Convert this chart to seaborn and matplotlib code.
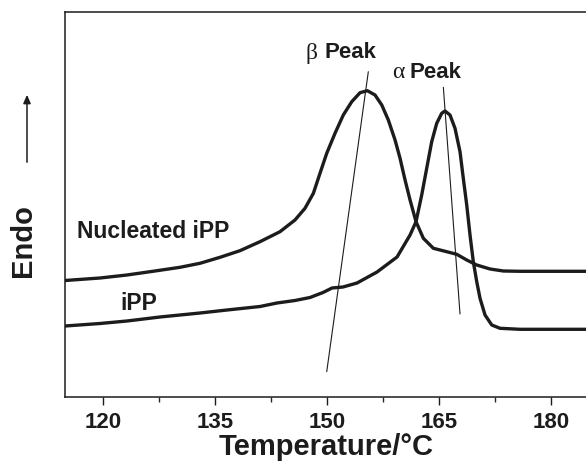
import numpy as np
import pandas as pd
import matplotlib
matplotlib.use("Agg")
import matplotlib.pyplot as plt
import seaborn as sns

# ---- data (temperature in °C, endo signal in arbitrary units) ----
nuc_temp = [114.95, 119.64, 123.25, 127.00, 130.35, 133.03, 135.71, 138.38, 141.06, 143.74,
            145.75, 147.09, 148.21, 149.10, 150.00, 151.11, 152.22, 153.35, 154.46, 155.44,
            156.47, 157.37, 158.25, 159.15, 159.82, 160.49, 161.16, 161.96, 162.94, 164.28,
            166.07, 167.41, 168.75, 170.09, 171.87, 173.65, 175.89, 184.73]
nuc_endo = [116.5, 119, 122, 126, 129.7, 133.7, 139.7, 146.3, 155.3, 165.3,
            177, 188.7, 203.7, 223.7, 243.7, 263.7, 282, 295.3, 304.3, 306.3,
            302, 292, 277, 257, 238.7, 217, 197, 175.3, 158.7, 148.7,
            145.3, 142.7, 137, 132, 128, 126, 125.7, 125.7]

ipp_temp = [114.95, 119.64, 123.25, 127.67, 133.03, 136.65, 141.07, 143.34, 145.75, 147.76,
            149.50, 150.71, 152.18, 154.06, 156.74, 159.42, 161.16, 161.96, 162.72, 163.39,
            164.06, 164.73, 165.40, 165.84, 166.51, 167.18, 167.85, 168.29, 168.75, 169.19,
            169.63, 170.09, 170.53, 171.20, 172.10, 173.21, 175.89, 184.73]
ipp_endo = [71, 73.5, 76, 80, 84, 87, 90.5, 94, 96.5, 99.5,
            104.5, 109, 110, 114, 125, 140, 162, 175.3, 202, 228.7,
            255.3, 273.7, 283.7, 286, 282, 268.7, 245.3, 218.7, 192, 162,
            135.3, 115.3, 98.7, 82, 72, 68.7, 67.7, 67.7]

beta_line_temp = [150.0, 155.57]
beta_line_endo = [25.3, 325.3]
alpha_line_temp = [165.62, 167.85]
alpha_line_endo = [309.7, 83.0]

x_ticks = [120, 135, 150, 165, 180]
x_minor = [127.5, 142.5, 157.5, 172.5]
x_label = "Temperature/\u00b0C"
y_label = "Endo"
series_names = ["Nucleated iPP", "iPP"]

df = pd.concat([
    pd.DataFrame({"T": nuc_temp, "E": nuc_endo, "sample": series_names[0]}),
    pd.DataFrame({"T": ipp_temp, "E": ipp_endo, "sample": series_names[1]}),
])

sns.set_style("ticks")
plt.rcParams["font.family"] = ["Liberation Sans", "DejaVu Sans"]
plt.rcParams["font.weight"] = "bold"

fig = plt.figure(figsize=(5.86, 4.65), dpi=100)
ax = fig.add_axes([65 / 586, 68 / 465, 522.7 / 586, 385 / 465])

ink = "#1c1c1c"
sns.lineplot(data=df, x="T", y="E", hue="sample", palette=[ink, ink], units="sample",
             estimator=None, sort=False, linewidth=2.4, legend=False, ax=ax,
             solid_joinstyle="round", solid_capstyle="round")
sns.lineplot(x=beta_line_temp, y=beta_line_endo, color=ink, linewidth=0.8, ax=ax)
sns.lineplot(x=alpha_line_temp, y=alpha_line_endo, color=ink, linewidth=0.8, ax=ax)

ax.set_xlim(114.95, 184.95)
ax.set_ylim(0, 385)
ax.set_xticks(x_ticks)
ax.set_xticks(x_minor, minor=True)
ax.set_yticks([])
ax.tick_params(axis="x", which="major", direction="out", length=6, width=1.0,
               labelsize=16, pad=5, colors=ink)
ax.tick_params(axis="x", which="minor", direction="out", length=3.5, width=1.0)
for lab in ax.get_xticklabels():
    lab.set_fontweight("bold")
for side in ["left", "top", "bottom"]:
    ax.spines[side].set_linewidth(1.1)
    ax.spines[side].set_color(ink)
ax.spines["right"].set_visible(False)

ax.set_xlabel(x_label, fontsize=21, fontweight="bold", labelpad=0, color=ink)
ax.set_ylabel("")

# curve labels
ax.text(116.5, 165, series_names[0], fontsize=16.5, fontweight="bold", va="center", ha="left", color=ink)
ax.text(122.3, 94, series_names[1], fontsize=16.5, fontweight="bold", va="center", ha="left", color=ink)

# peak labels
ax.text(147.9, 344, "\u03b2", fontsize=17, family=["Liberation Serif", "DejaVu Serif"],
        fontweight="normal", va="center", ha="center", color=ink)
ax.text(149.75, 344, "Peak", fontsize=16, fontweight="bold", va="center", ha="left", color=ink)
ax.text(159.55, 324, "\u03b1", fontsize=17, family=["Liberation Serif", "DejaVu Serif"],
        fontweight="normal", va="center", ha="center", color=ink)
ax.text(161.15, 324, "Peak", fontsize=16, fontweight="bold", va="center", ha="left", color=ink)

# y label with arrow
fig.text(23 / 586, 1 - 241 / 465, y_label, rotation=90, fontsize=21, fontweight="bold",
         ha="center", va="center", color=ink)
fig.add_artist(matplotlib.patches.FancyArrowPatch(
    (27 / 586, 1 - 165 / 465), (27 / 586, 1 - 92 / 465), transform=fig.transFigure,
    arrowstyle="-|>,head_length=5,head_width=2.2", color=ink, linewidth=1.1, mutation_scale=1))

fig.savefig("out.png", dpi=100)
